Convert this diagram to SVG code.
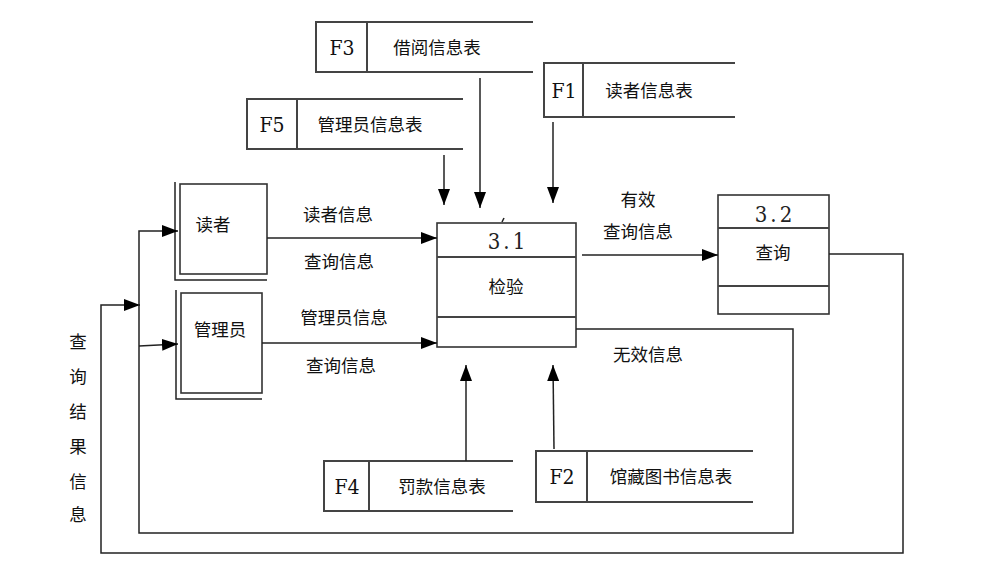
<svg xmlns="http://www.w3.org/2000/svg" width="1004" height="569" viewBox="0 0 1004 569">
<style>
.ln{stroke:#222;stroke-width:1.5;fill:none}
.st{stroke:#444;stroke-width:2;fill:none}
.bx{stroke:#333;stroke-width:1.6;fill:#fff}
.t{font-family:"Noto Sans CJK SC","Noto Sans",sans-serif;font-size:17.5px;fill:#111;text-anchor:middle}
.f{font-family:"DejaVu Serif Condensed","DejaVu Serif","Liberation Serif",serif;font-stretch:condensed;font-size:21px;fill:#111;text-anchor:middle}
.n{font-family:"DejaVu Serif Condensed","DejaVu Serif","Liberation Serif",serif;font-stretch:condensed;font-size:22px;fill:#222;text-anchor:middle;letter-spacing:3px}
</style>
<defs>
<marker id="a" markerUnits="userSpaceOnUse" markerWidth="17" markerHeight="12" refX="16" refY="6" orient="auto">
<path d="M0,0 L16,6 L0,12 z" fill="#000"/>
</marker>
</defs>
<rect width="1004" height="569" fill="#fff"/>

<g id="F3">
<path class="st" d="M533,22 H316 V72 H533 M367,22 V72"/>
<text class="f" x="342" y="55">F3</text>
<text class="t" x="437" y="54">借阅信息表</text>
</g>
<g id="F1">
<path class="st" d="M735,63 H544 V117 H735 M583,63 V117"/>
<text class="f" x="564" y="98">F1</text>
<text class="t" x="649" y="97">读者信息表</text>
</g>
<g id="F5">
<path class="st" d="M463,99 H247 V149 H463 M297,99 V149"/>
<text class="f" x="272" y="132">F5</text>
<text class="t" x="370" y="131">管理员信息表</text>
</g>
<g id="F4">
<path class="st" d="M513,461 H324 V511 H513 M369,461 V511"/>
<text class="f" x="347" y="494">F4</text>
<text class="t" x="442" y="493">罚款信息表</text>
</g>
<g id="F2">
<path class="st" d="M753,451 H536 V502 H753 M587,451 V502"/>
<text class="f" x="562" y="484">F2</text>
<text class="t" x="671" y="483">馆藏图书信息表</text>
</g>

<g id="reader">
<path class="ln" d="M175,182 V280 H267"/>
<rect class="bx" x="180" y="184" width="87" height="90"/>
<text class="t" x="213" y="231">读者</text>
</g>
<g id="admin">
<path class="ln" d="M176,290 V399 H262"/>
<rect class="bx" x="181" y="293" width="81" height="100"/>
<text class="t" x="220" y="336">管理员</text>
</g>

<g id="p31">
<rect class="bx" x="437" y="223" width="139" height="124"/>
<path class="st" d="M437,257 H576 M437,317 H576"/>
<text class="n" x="508" y="249">3.1</text>
<text class="t" x="506" y="293">检验</text>
</g>
<g id="p32">
<rect class="bx" x="718" y="195" width="111" height="119"/>
<path class="st" d="M718,228 H829 M718,286 H829"/>
<text class="n" x="775" y="222">3.2</text>
<text class="t" x="773" y="259">查询</text>
</g>

<g id="connectors">
<path class="ln" d="M444,155 V205" marker-end="url(#a)"/>
<path class="ln" d="M480,78 V208" marker-end="url(#a)"/>
<path class="ln" d="M553,122 V203" marker-end="url(#a)"/>
<path class="ln" d="M466,461 V365" marker-end="url(#a)"/>
<path class="ln" d="M554,449 L553,365" marker-end="url(#a)"/>
<path class="ln" d="M267,238 H437" marker-end="url(#a)"/>
<path class="ln" d="M262,343 H437" marker-end="url(#a)"/>
<path class="ln" d="M582,255 H718" marker-end="url(#a)"/>
<path class="ln" d="M829,254 H903 V553 H101 V305 H140" marker-end="url(#a)"/>
<path class="ln" d="M576,329 H793 V533 H139 V231 H178" marker-end="url(#a)"/>
<path class="ln" d="M139,346 L178,344" marker-end="url(#a)"/>
<path class="ln" d="M502,222 L504,218"/>
</g>

<g id="labels">
<text class="t" x="338" y="221">读者信息</text>
<text class="t" x="339" y="268">查询信息</text>
<text class="t" x="344" y="324">管理员信息</text>
<text class="t" x="341" y="372">查询信息</text>
<text class="t" x="638" y="206">有效</text>
<text class="t" x="638" y="238">查询信息</text>
<text class="t" x="648" y="361">无效信息</text>
<text class="t" x="78" y="348">查</text>
<text class="t" x="78" y="383">询</text>
<text class="t" x="78" y="418">结</text>
<text class="t" x="78" y="453">果</text>
<text class="t" x="78" y="488">信</text>
<text class="t" x="78" y="521">息</text>
</g>
</svg>
